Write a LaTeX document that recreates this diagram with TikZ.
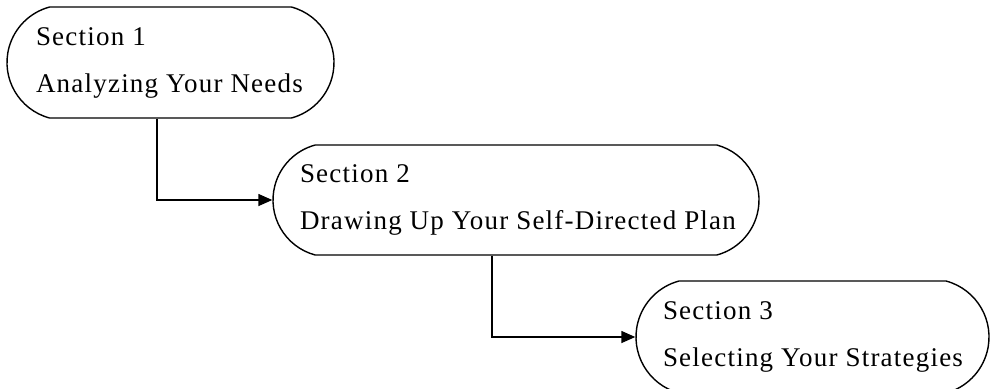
\documentclass[tikz,border=0pt]{standalone}
\usepackage{fontspec}
\newfontfamily\labelfont[LetterSpace=4.5]{Liberation Serif}
\usetikzlibrary{shapes.misc, positioning, arrows.meta}
\tikzset{
->, % every connector gets a head
>={Triangle[length=7pt,width=6pt]}, % filled triangle heads
sectionbox/.style={draw, rounded rectangle, rounded rectangle arc length=150,
  line width=0.7pt, inner sep=0pt}, % the rounded boxes
sectiontext/.style={anchor=west, align=left, inner sep=0pt,
  font=\labelfont\fontsize{13.5}{23.5}\selectfont}, % the two lines in a box
}

\begin{document}
\begin{tikzpicture}[x=0.5pt, y=-0.5pt, line width=0.7pt]
        \useasboundingbox (0,0) rectangle (990,388);
        \node[sectionbox, minimum width=163.5pt, minimum height=55.5pt] (s1) at (170.5,62.5) {};
        \node[sectionbox, minimum width=243pt, minimum height=55pt] (s2) at (516,200) {};
        \node[sectionbox, minimum width=176.5pt, minimum height=56pt] (s3) at (812.5,337) {};
        \node[sectiontext] (t1) at ([xshift=14.5pt]s1.west) {Section 1\\Analyzing Your Needs};
        \node[sectiontext] (t2) at ([xshift=13.5pt]s2.west) {Section 2\\Drawing Up Your Self-Directed Plan};
        \node[sectiontext] (t3) at ([xshift=13.5pt]s3.west) {Section 3\\Selecting Your Strategies};
        \draw ([xshift=-6.75pt]s1.south) |- (s2.west);
        \draw ([xshift=-12pt]s2.south) |- (s3.west);
    \end{tikzpicture}
\end{document}
